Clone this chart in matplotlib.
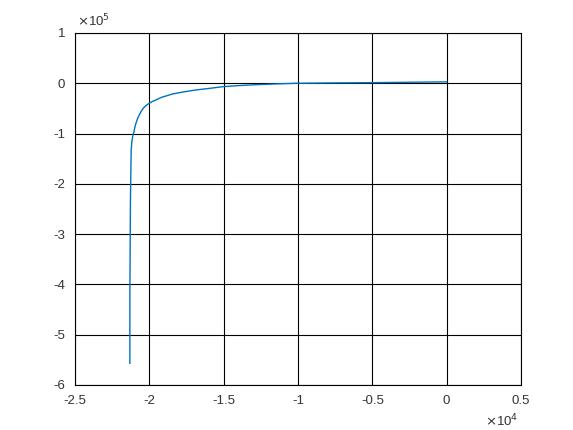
import matplotlib
matplotlib.use("Agg")
import matplotlib.pyplot as plt
from matplotlib.ticker import FuncFormatter

# curve
x_vals = [-21310, -21310, -21290, -21270, -21240, -21220, -21180, -21120,
          -21040, -20980, -20900, -20800, -20680, -20550, -20410, -20230,
          -20010, -19800, -19560, -19200, -18440, -17700, -16860, -16000,
          -15060, -14000, -12810, -11500, -10090, -8000, -5040, -2500, 0]
y_vals = [-557000, -431000, -331000, -232000, -170000, -133000, -117000, -106000,
          -97400, -88000, -79500, -71000, -63000, -56000, -49700, -44500,
          -39800, -36300, -33200, -28200, -21300, -17200, -13300, -10300,
          -6800, -4600, -2800, -1300, 0, 600, 1200, 2000, 2800]

x_ticks = [-25000, -20000, -15000, -10000, -5000, 0, 5000]
y_ticks = [-600000, -500000, -400000, -300000, -200000, -100000, 0, 100000]

TEXT = "#333333"
plt.rcParams["font.family"] = ["Liberation Sans", "DejaVu Sans"]

fig = plt.figure(figsize=(5.73, 4.30), dpi=100)
ax = fig.add_axes([0.1309, 0.1047, 0.7783, 0.8186])

ax.plot(x_vals, y_vals, color="#0072BD", lw=1.0, zorder=3)

ax.set_xlim(-25000, 5000)
ax.set_ylim(-600000, 100000)
ax.set_xticks(x_ticks)
ax.set_yticks(y_ticks)
ax.xaxis.set_major_formatter(FuncFormatter(lambda v, p: f"{v / 1e4:g}"))
ax.yaxis.set_major_formatter(FuncFormatter(lambda v, p: f"{v / 1e5:g}"))
ax.grid(True, color="black", lw=0.8, zorder=1)
ax.tick_params(direction="in", length=0, labelsize=9.5, colors=TEXT, pad=7)
for s in ax.spines.values():
    s.set_color("black")
    s.set_linewidth(0.8)

ax.text(0.005, 1.01, r"$\times$10$^{5}$", transform=ax.transAxes,
        ha="left", va="bottom", fontsize=9.5, color=TEXT)
ax.text(0.995, -0.078, r"$\times$10$^{4}$", transform=ax.transAxes,
        ha="right", va="top", fontsize=9.5, color=TEXT)

fig.savefig("out.png", dpi=100)
